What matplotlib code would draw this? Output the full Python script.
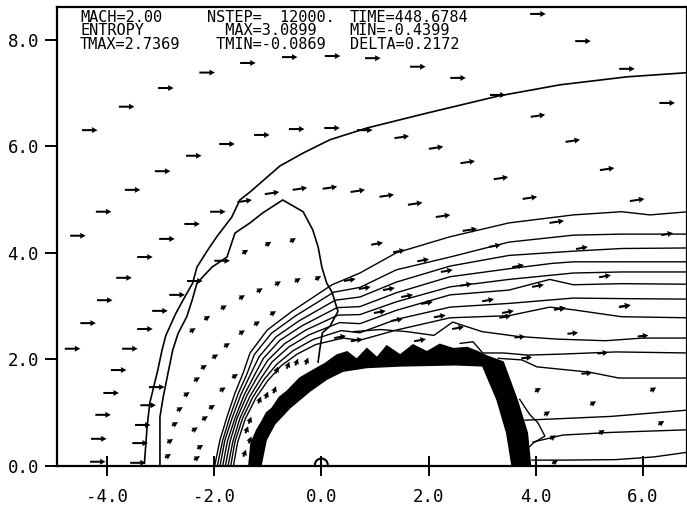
import matplotlib.pyplot as plt
import matplotlib.patches as patches
import numpy as np

plt.rcParams['font.family'] = ['DejaVu Sans Mono', 'DejaVu Sans']
plt.rcParams['axes.unicode_minus'] = False

# header block printed by the solver
header_rows = [
    ['MACH=2.00', 'NSTEP=  12000.', 'TIME=448.6784'],
    ['ENTROPY', '  MAX=3.0899', 'MIN=-0.4399'],
    ['TMAX=2.7369', ' TMIN=-0.0869', 'DELTA=0.2172'],
]

x_ticks = [-4.0, -2.0, 0.0, 2.0, 4.0, 6.0]
x_labels = ['-4.0', '-2.0', '0.0', '2.0', '4.0', '6.0']
y_ticks = [0.0, 2.0, 4.0, 6.0, 8.0]
y_labels = ['0.0', '2.0', '4.0', '6.0', '8.0']

# body (band of bunched contours) - outer and inner edge
body_outer_x = [-1.35, -1.31, -1.20, -1.11, -1.02, -0.92, -0.78, -0.64, -0.40, -0.16, 0.07, 0.29, 0.48,
                0.66, 0.85, 1.04, 1.22, 1.47, 1.71, 1.97, 2.21, 2.46, 2.72, 2.90, 3.09, 3.39, 3.65, 3.84, 3.90]
body_outer_y = [0.00, 0.43, 0.68, 0.83, 1.00, 1.08, 1.29, 1.40, 1.65, 1.79, 1.92, 2.08, 2.14,
                2.00, 2.20, 2.03, 2.25, 2.08, 2.27, 2.14, 2.28, 2.20, 2.22, 2.15, 2.06, 1.95, 1.24, 0.62, 0.00]
body_inner_x = [3.56, 3.46, 3.28, 3.01, 2.50, 2.00, 1.50, 0.85, 0.40, 0.10, -0.21, -0.59, -0.87, -1.03, -1.13]
body_inner_y = [0.00, 0.62, 1.24, 1.88, 1.90, 1.89, 1.88, 1.85, 1.78, 1.63, 1.41, 1.09, 0.79, 0.49, 0.00]

# outer bow-shock contour
bow_x = [-3.30, -3.27, -3.25, -3.20, -3.05, -2.97, -2.90, -2.71, -2.58, -2.40, -2.32, -2.12, -1.95,
         -1.67, -1.52, -1.33, -0.77, -0.34, 0.16, 0.85, 1.97, 3.30, 4.45, 5.70, 6.85]
bow_y = [0.05, 0.45, 0.73, 1.18, 1.80, 2.18, 2.45, 2.87, 3.11, 3.43, 3.73, 4.05, 4.30,
         4.67, 4.99, 5.14, 5.63, 5.87, 6.12, 6.34, 6.62, 6.94, 7.15, 7.30, 7.38]

# peaked contour enclosing the subsonic pocket
pocket_x = [-3.01, -3.01, -2.95, -2.86, -2.77, -2.67, -2.51, -2.41, -2.32, -2.04, -1.76, -1.61, -1.33,
            -1.09, -0.72, -0.34, -0.16, -0.06, 0.01, 0.10, 0.20, 0.31, 0.16, 0.02, -0.03, -0.06]
pocket_y = [0.02, 0.92, 1.29, 1.74, 2.18, 2.49, 2.80, 3.11, 3.43, 3.73, 3.92, 4.37, 4.56,
            4.75, 4.99, 4.77, 4.43, 4.11, 3.73, 3.43, 3.26, 2.90, 2.62, 2.50, 2.18, 1.95]

# shock-layer contours wrapping the body and trailing into the wake
shock_lines = [
    ([-1.99, -1.89, -1.76, -1.61, -1.46, -1.33, -1.01, -0.55, 0.20, 0.72, 1.40, 2.40, 3.50, 4.30, 4.70, 5.60, 6.13, 6.85],
     [0.00, 0.49, 0.92, 1.37, 1.74, 2.12, 2.55, 2.90, 3.40, 3.62, 4.00, 4.30, 4.56, 4.66, 4.71, 4.77, 4.71, 4.77]),
    ([-1.94, -1.84, -1.71, -1.55, -1.39, -1.25, -0.93, -0.49, 0.23, 0.72, 1.40, 2.40, 3.50, 4.70, 5.60, 6.85],
     [0.00, 0.48, 0.91, 1.36, 1.72, 2.09, 2.49, 2.81, 3.26, 3.35, 3.68, 3.92, 4.20, 4.33, 4.35, 4.35]),
    ([-1.89, -1.80, -1.66, -1.50, -1.33, -1.16, -0.85, -0.42, 0.26, 0.72, 1.40, 2.40, 3.50, 4.70, 5.60, 6.85],
     [0.00, 0.48, 0.91, 1.34, 1.70, 2.05, 2.42, 2.72, 3.11, 3.17, 3.45, 3.75, 3.95, 4.03, 4.08, 4.09]),
    ([-1.84, -1.75, -1.61, -1.44, -1.26, -1.08, -0.77, -0.36, 0.29, 0.72, 1.40, 2.40, 3.50, 4.30, 4.70, 5.60, 6.85],
     [0.00, 0.47, 0.90, 1.33, 1.68, 2.02, 2.36, 2.63, 2.97, 2.99, 3.25, 3.55, 3.70, 3.80, 3.83, 3.83, 3.83]),
    ([-1.79, -1.70, -1.57, -1.39, -1.20, -1.00, -0.69, -0.29, 0.31, 0.72, 1.40, 2.40, 3.50, 4.70, 5.60, 6.85],
     [0.00, 0.47, 0.90, 1.32, 1.66, 1.98, 2.29, 2.55, 2.83, 2.84, 3.08, 3.36, 3.50, 3.62, 3.64, 3.64]),
    ([-1.74, -1.65, -1.52, -1.33, -1.13, -0.92, -0.61, -0.23, 0.34, 0.72, 1.40, 2.40, 3.50, 4.26, 4.70, 5.60, 6.85],
     [0.00, 0.46, 0.89, 1.31, 1.64, 1.95, 2.23, 2.46, 2.69, 2.67, 2.92, 3.21, 3.30, 3.50, 3.40, 3.42, 3.41]),
    ([-1.69, -1.61, -1.47, -1.28, -1.07, -0.83, -0.53, -0.16, 0.37, 0.72, 1.40, 2.40, 3.50, 4.70, 5.60, 6.85],
     [0.00, 0.46, 0.89, 1.29, 1.62, 1.91, 2.16, 2.37, 2.54, 2.50, 2.75, 2.98, 3.05, 3.15, 3.14, 3.13]),
    ([-1.64, -1.56, -1.42, -1.22, -1.00, -0.75, -0.45, -0.10, 0.40, 0.72, 1.40, 2.40, 3.50, 4.26, 4.70, 5.60, 6.85],
     [0.00, 0.45, 0.88, 1.28, 1.60, 1.88, 2.10, 2.28, 2.40, 2.36, 2.55, 2.78, 2.82, 2.98, 2.93, 2.80, 2.78]),
]

# contours behind the body
wake_lines = [
    ([0.60, 1.10, 1.60, 2.10, 2.45, 3.00, 3.67, 4.40, 5.30, 6.00, 6.85],
     [2.52, 2.56, 2.52, 2.45, 2.70, 2.52, 2.43, 2.38, 2.35, 2.40, 2.40]),
    ([2.59, 2.83, 3.01, 3.40, 3.85, 4.50, 5.50, 6.85],
     [2.30, 2.33, 2.12, 2.12, 2.08, 2.10, 2.14, 2.12]),
    ([3.30, 3.74, 4.02, 5.00, 5.55, 6.85],
     [2.02, 1.99, 1.86, 1.76, 1.65, 1.65]),
    ([3.70, 3.83, 3.90, 4.04, 4.17, 3.95, 3.88],
     [1.25, 1.05, 0.95, 0.81, 0.56, 0.43, 0.36]),
    ([3.80, 4.50, 5.40, 6.85],
     [0.86, 0.89, 0.93, 1.05]),
    ([3.95, 4.50, 5.40, 6.85],
     [0.45, 0.58, 0.63, 0.68]),
    ([3.93, 4.50, 5.50, 6.20, 6.85],
     [0.11, 0.11, 0.12, 0.17, 0.26]),
]

# velocity vectors, grouped by region
free_x = [4.04, 4.88, 5.70, 1.80, 2.55, 3.29, 6.45, -1.37, -2.13, -2.90, -3.63, -4.32, -0.59, 0.21, 0.96,
          -1.11, -0.46, 0.20, 0.81, -1.76, -2.38, -2.96, -3.52, -4.06, -4.54, -1.93, -2.41, -2.88, -3.29,
          -3.68, -4.04, -4.35, -4.64, -3.29, -3.57, -3.78, -3.92, -4.07, -4.15, -4.17, -3.01, -2.69, -2.36,
          -1.85, -3.07, -3.23, -3.33, -3.38, -3.42]
free_y = [8.48, 7.97, 7.45, 7.49, 7.28, 6.96, 6.81, 7.56, 7.38, 7.09, 6.74, 6.30, 7.67, 7.69, 7.65,
          6.21, 6.32, 6.34, 6.30, 6.04, 5.82, 5.53, 5.18, 4.77, 4.32, 4.77, 4.54, 4.26, 3.92,
          3.53, 3.11, 2.68, 2.20, 2.57, 2.20, 1.80, 1.37, 0.96, 0.51, 0.08, 2.91, 3.21, 3.47,
          3.85, 1.48, 1.14, 0.77, 0.43, 0.06]
free_dir = (0.29, 0.0)

layer_x = [-1.43, -0.92, -0.40, 0.16, 0.68, 1.22, 1.75, 2.27, 2.77, 1.50, 2.14, 2.73, 3.35, 4.04, 4.69,
           5.33, 3.89, 5.89, 4.39]
layer_y = [4.97, 5.12, 5.20, 5.22, 5.16, 5.07, 4.92, 4.69, 4.43, 6.17, 5.97, 5.70, 5.40, 6.57, 6.10,
           5.57, 5.03, 4.99, 4.58]
layer_dir = (0.27, 0.04)

inner_x = [3.24, 4.86, 6.45, 3.67, 5.29, 4.04, 4.45, 5.66, 2.70, 3.11, 3.43, 2.21, 1.04, 1.45, 1.90, 2.34,
           1.26, 1.60, 3.48, 1.97, 2.55, 0.53, 0.81, 1.09, 1.41, 1.84, 0.66, 0.35]
inner_y = [4.13, 4.09, 4.35, 3.75, 3.56, 3.38, 2.95, 3.00, 3.40, 3.11, 2.80, 2.81, 4.17, 4.03, 3.86, 3.66,
           3.32, 3.19, 2.89, 3.06, 2.59, 3.49, 3.34, 2.89, 2.74, 2.36, 2.36, 2.42]
inner_dir = (0.22, 0.04)

wake_x = [4.45, 5.66, 4.69, 6.00, 3.70, 4.95, 3.83, 5.25]
wake_y = [2.95, 3.00, 2.49, 2.44, 2.42, 1.74, 2.03, 2.12]
wake_dir = (0.20, 0.02)

slow_x = [4.04, 5.07, 6.19, 4.21, 6.34, 5.23, 4.32, 4.36,
          -1.42, -0.99, -0.53, -1.15, -0.81, -0.44, -0.06, -1.48, -1.82, -2.13, -2.40, -1.98, -1.76,
          -1.48, -1.20, -0.90, -2.19, -2.32, -2.51, -2.64, -2.73, -2.82, -2.86, -2.32, -2.26, -2.36,
          -2.17, -2.04, -1.84, -1.61]
slow_y = [1.43, 1.18, 1.44, 0.99, 0.81, 0.64, 0.54, 0.08,
          4.02, 4.17, 4.24, 3.30, 3.43, 3.49, 3.53, 3.17, 2.98, 2.78, 2.55, 2.06, 2.27,
          2.51, 2.68, 2.87, 1.86, 1.63, 1.35, 1.07, 0.79, 0.47, 0.19, 0.15, 0.36, 0.69,
          0.90, 1.11, 1.44, 1.69]
slow_dir = (0.11, 0.07)

gap_x = [-0.83, -0.62, -0.46, -0.27, -1.15, -1.02, -0.87, -1.33, -1.39, -1.33, -1.43]
gap_y = [1.80, 1.89, 1.95, 1.97, 1.24, 1.33, 1.43, 0.86, 0.68, 0.49, 0.24]
gap_dir = (0.05, 0.13)

fig = plt.figure(figsize=(6.87, 5.11), dpi=100)
ax = fig.add_axes([57 / 687, 45 / 511, 630 / 687, 459 / 511])
ax.set_xlim(-4.93, 6.82)
ax.set_ylim(0.0, 8.61)

# body
ax.fill(body_outer_x + body_inner_x, body_outer_y + body_inner_y, color='black', lw=1.2)

ax.plot(bow_x, bow_y, color='black', lw=1.2)
ax.plot(pocket_x, pocket_y, color='black', lw=1.2)
for xs, ys in shock_lines:
    ax.plot(xs, ys, color='black', lw=1.0)
for xs, ys in wake_lines:
    ax.plot(xs, ys, color='black', lw=1.0)

qkw = dict(angles='xy', scale_units='xy', scale=1, pivot='middle', color='black',
           width=0.0032, headwidth=3.0, headlength=2.8, headaxislength=2.6)
for xs, ys, d in [(free_x, free_y, free_dir), (layer_x, layer_y, layer_dir),
                  (inner_x, inner_y, inner_dir), (wake_x, wake_y, wake_dir),
                  (slow_x, slow_y, slow_dir), (gap_x, gap_y, gap_dir)]:
    ax.quiver(xs, ys, np.full(len(xs), d[0]), np.full(len(xs), d[1]), **qkw)

# symmetry marker on the axis
ax.add_patch(patches.Arc((0.0, 0.02), 0.24, 0.24, theta1=0, theta2=180, color='black', lw=1.5))
ax.plot([0.0, 0.0], [0.0, 0.14], color='black', lw=1.5)

# header
col_x = [-4.50, -2.13, 0.53]
row_y = [8.42, 8.16, 7.90]
for r, row in enumerate(header_rows):
    for c, txt in enumerate(row):
        ax.text(col_x[c], row_y[r], txt, fontsize=11, va='center', ha='left')

for s in ax.spines.values():
    s.set_linewidth(1.6)

ax.set_xticks(x_ticks)
ax.set_xticklabels(x_labels)
ax.set_yticks(y_ticks)
ax.set_yticklabels(y_labels)
ax.tick_params(axis='x', direction='inout', length=14, width=1.4, pad=9, labelsize=12.5)
ax.tick_params(axis='y', direction='out', length=9, width=1.4, pad=4, labelsize=12.5)

fig.savefig('out.png', dpi=100)
